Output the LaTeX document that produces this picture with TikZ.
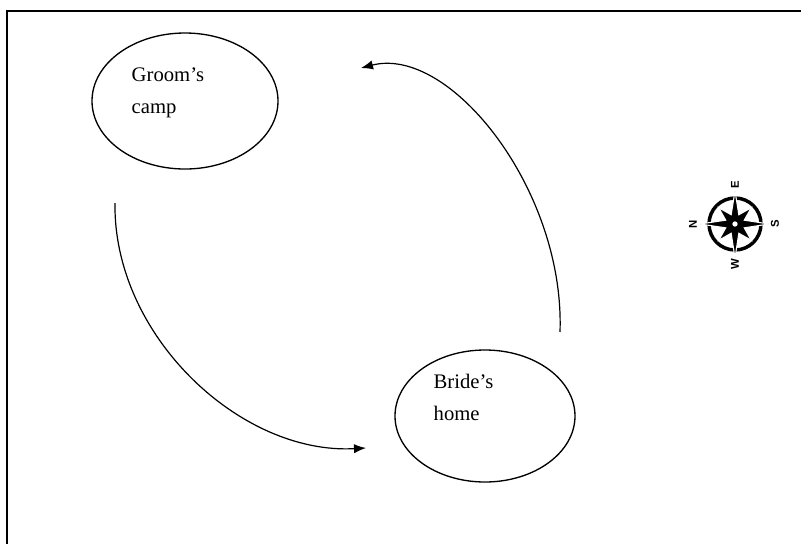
\documentclass[tikz,border=0pt]{standalone}
\usepackage{fontspec}
\setmainfont{Liberation Serif}
\setsansfont{Liberation Sans}
\usetikzlibrary{shapes.geometric,arrows.meta}

\tikzset{
  place/.style={ellipse, draw, line width=1pt, inner sep=0pt},
  placetext/.style={anchor=north west, align=left, font=\fontsize{15.5}{24}\selectfont},
  route/.style={line width=0.9pt, -{Latex[length=9pt,width=7pt]}},
  compassletter/.style={font=\sffamily\bfseries\fontsize{8.5}{8.5}\selectfont, rotate=90, inner sep=0pt}
}

\begin{document}
\begin{tikzpicture}[x=0.75pt, y=-0.75pt]
\useasboundingbox (0,0) rectangle (801,544);

% Frame
\draw[line width=1pt] (7,544) -- (7,11) -- (801,11);

% Nodes
\node[place, minimum width=139.5pt, minimum height=102pt] (groom) at (185,101) {};
\node[place, minimum width=135pt, minimum height=99pt] (bride) at (485,416) {};
\node[placetext] (groomtext) at (127,63) {Groom's\\camp};
\node[placetext] (bridetext) at (429,369) {Bride's\\home};

% Links
\coordinate (a1) at (115,203);
\coordinate (b1) at (366,448);
\coordinate (a2) at (560,332);
\coordinate (b2) at (361,68);
\draw[route] (a1) .. controls (113,335) and (240,455) .. (b1); % camp --> home
\draw[route] (a2) .. controls (565,190) and (450,45) .. (b2); % home --> camp

% Compass
\begin{scope}[shift={(735,224)}]
\draw[line width=2.6pt] (0,0) circle (26);
\fill[draw=white, line width=0.8pt] (0:34)
  \foreach \a/\r in {22.5/10, 45/23, 67.5/10, 90/34, 112.5/10, 135/23, 157.5/10, 180/35,
                     202.5/10, 225/23, 247.5/10, 270/33, 292.5/10, 315/23, 337.5/10} {-- (\a:\r)} -- cycle;
\filldraw[fill=white, draw=black, line width=1pt] (0,0) circle (3.5);
\node[compassletter] (north) at (180:42) {N};
\node[compassletter] (east) at (270:39) {E};
\node[compassletter] (south) at (0:40) {S};
\node[compassletter] (west) at (90:40) {W};
\end{scope}

\end{tikzpicture}
\end{document}
